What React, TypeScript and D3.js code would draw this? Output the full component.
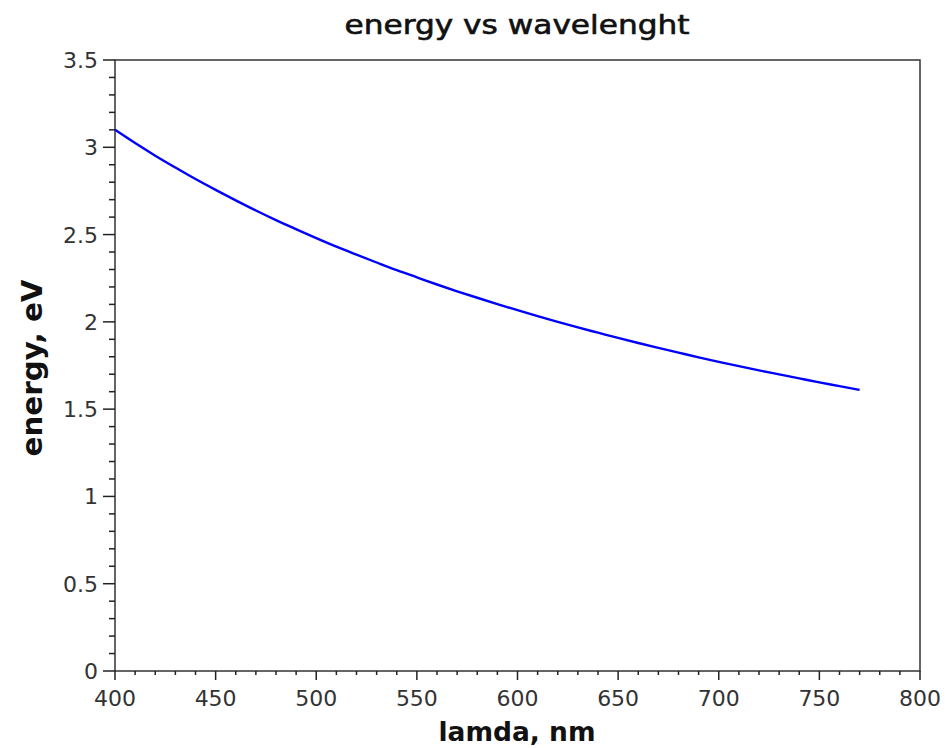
import React from "react";
import * as d3 from "d3";

const wavelengths = [400,410,420,430,440,450,460,470,480,490,500,510,520,530,540,550,560,570,580,590,600,610,620,630,640,650,660,670,680,690,700,710,720,730,740,750,760,770];
const energies = [3.100,3.024,2.952,2.884,2.818,2.756,2.696,2.638,2.583,2.531,2.480,2.431,2.385,2.340,2.296,2.255,2.214,2.175,2.138,2.102,2.067,2.033,2.000,1.968,1.938,1.908,1.879,1.851,1.824,1.797,1.771,1.746,1.722,1.699,1.676,1.653,1.632,1.610];
const xTicks = [400,450,500,550,600,650,700,750,800];
const yTicks = [0,0.5,1,1.5,2,2.5,3,3.5];
const xTickLabels = ["400","450","500","550","600","650","700","750","800"];
const yTickLabels = ["0","0.5","1","1.5","2","2.5","3","3.5"];
const title = "energy vs wavelenght";
const xLabel = "lamda, nm";
const yLabel = "energy, eV";

const W = 946, H = 748;
const L = 115, R = 920, T = 60, B = 671;

export default function App() {
  const x = d3.scaleLinear().domain([400, 800]).range([L, R]);
  const y = d3.scaleLinear().domain([0, 3.5]).range([B, T]);
  const pts = wavelengths.map((w, i) => [w, energies[i]] as [number, number]);
  const line = d3.line<[number, number]>().x(d => x(d[0])).y(d => y(d[1])).curve(d3.curveMonotoneX);
  const xMinor = d3.range(400, 801, 10).filter(v => v % 50 !== 0);
  const yMinor = d3.range(0, 36).map(v => v / 10).filter((v, i) => i % 5 !== 0);
  const font = "'DejaVu Sans', sans-serif";
  const ax = "#222";
  return (
    <svg width={W} height={H} style={{ position: "absolute", left: 0, top: 0, background: "#fff" }}>
      <rect x={0} y={0} width={W} height={H} fill="#fff" />
      <text x={517} y={34} textAnchor="middle" fontFamily={font} fontSize={26} textLength={345} lengthAdjust="spacingAndGlyphs" fill="#111" stroke="#111" strokeWidth={0.6}>{title}</text>
      <rect x={L} y={T} width={R - L} height={B - T} fill="none" stroke="#333" strokeWidth={1.5} />
      <path d={line(pts) || ""} fill="none" stroke="#0000ff" strokeWidth={2.4} />
      {xTicks.map((t, i) => (
        <g key={"xt" + t}>
          <line x1={x(t)} x2={x(t)} y1={B} y2={B + 9} stroke={ax} strokeWidth={1.5} />
          <text x={x(t)} y={706} textAnchor="middle" fontFamily={font} fontSize={22} fill="#333">{xTickLabels[i]}</text>
        </g>
      ))}
      {xMinor.map(t => (
        <line key={"xm" + t} x1={x(t)} x2={x(t)} y1={B} y2={B + 4} stroke={ax} strokeWidth={1.5} />
      ))}
      {yTicks.map((t, i) => (
        <g key={"yt" + t}>
          <line x1={L - 12} x2={L} y1={y(t)} y2={y(t)} stroke={ax} strokeWidth={1.5} />
          <text x={98} y={y(t) + 8} textAnchor="end" fontFamily={font} fontSize={22} fill="#333">{yTickLabels[i]}</text>
        </g>
      ))}
      {yMinor.map(t => (
        <line key={"ym" + t} x1={L - 6} x2={L} y1={y(t)} y2={y(t)} stroke={ax} strokeWidth={1.5} />
      ))}
      <text x={517} y={741} textAnchor="middle" fontFamily={font} fontSize={27} fontWeight="bold" textLength={157} lengthAdjust="spacingAndGlyphs" fill="#111">{xLabel}</text>
      <text transform="translate(42,368) rotate(-90)" textAnchor="middle" fontFamily={font} fontSize={28} fontWeight="bold" textLength={177} lengthAdjust="spacingAndGlyphs" fill="#111">{yLabel}</text>
    </svg>
  );
}
